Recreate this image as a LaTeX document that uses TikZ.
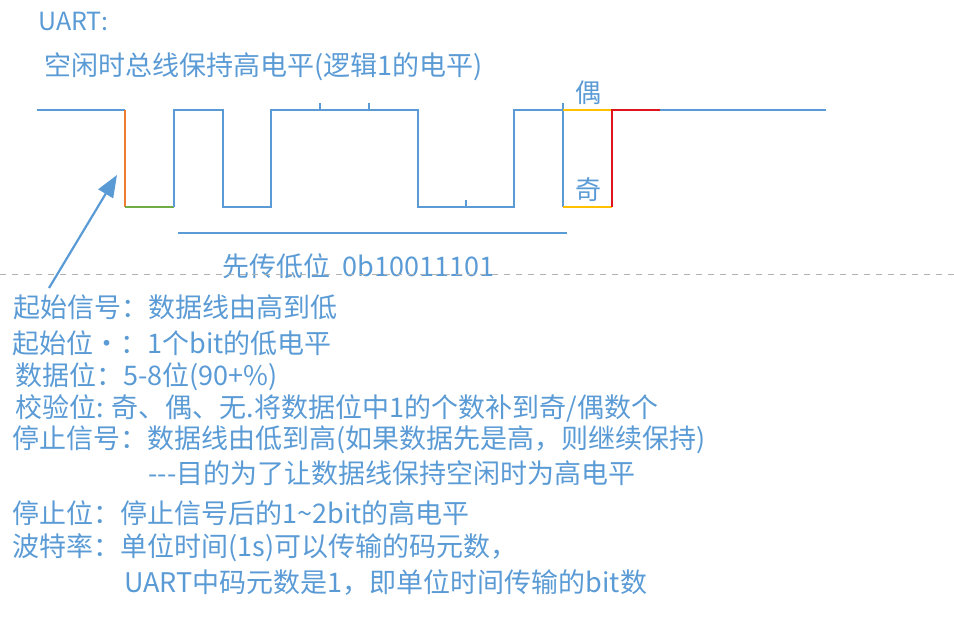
\documentclass[tikz,border=0pt]{standalone}
\usepackage{fontspec}
\newfontfamily\cjk{Noto Sans CJK SC}
\usepackage{tikz}
\usetikzlibrary{arrows.meta}
\definecolor{wblue}{HTML}{5B9BD5}
\definecolor{worange}{HTML}{ED7D31}
\definecolor{wgreen}{HTML}{70AD47}
\definecolor{wyellow}{HTML}{FFC000}
\definecolor{wred}{HTML}{E0141E}
\tikzset{
  wave/.style={line width=1.3pt, wblue},
  txt/.style={anchor=west, inner sep=0pt, text=wblue, font=\cjk\fontsize{13.5}{16}\selectfont},
  mark txt/.style={inner sep=0pt, text=wblue, font=\cjk\fontsize{13}{16}\selectfont}
}

\begin{document}
\begin{tikzpicture}[x=0.5pt, y=-0.5pt]
    \useasboundingbox (0,0) rectangle (954,635);

    % Titles
    \node[txt, font=\cjk\fontsize{12.5}{15}\selectfont] (uart) at (38, 22) {UART:};
    \node[txt] (idle) at (44, 67) {空闲时总线保持高电平(逻辑1的电平)};

    % Waveform
    \draw[wave] (37,110) -- (125,110);
    \draw[wave, worange] (125,110) -- (125,207);
    \draw[wave, wgreen] (125,207) -- (174,207);
    \draw[wave] (174,207) -- (174,110) -- (223,110) -- (223,207) -- (271,207)
        -- (271,110) -- (418,110) -- (418,207) -- (514,207) -- (514,110) -- (563,110);
    \draw[wave] (563,103) -- (563,207);
    \draw[wave, wyellow] (563,110) -- (612,110);
    \draw[wave, wyellow] (563,207) -- (612,207);
    \draw[wave, wred] (612,207) -- (612,110) -- (660,110);
    \draw[wave] (660,110) -- (826,110);

    % Bit ticks
    \foreach \x in {320, 369} {
        \draw[wave] (\x,110) -- (\x,103);
    }
    \draw[wave] (466,207) -- (466,200);

    % Parity labels
    \node[mark txt] (even) at (588, 93) {偶};
    \node[mark txt] (odd) at (588, 190) {奇};

    % Data bits
    \draw[wave] (178,233) -- (567,233);
    \node[txt] (lsb) at (222, 266) {先传低位\ \ 0b10011101};

    % Separator
    \draw[gray!60, dashed, line width=0.5pt] (0,275) -- (954,275);

    % Notes
    \node[txt] (start) at (13, 307) {起始信号：数据线由高到低};
    \node[txt] (startbit) at (12, 343) {起始位·：1个bit的低电平};
    \node[txt] (databit) at (15, 377) {数据位：5-8位(90+\%)};
    \node[txt] (parity) at (15, 408) {校验位: 奇、偶、无.将数据位中1的个数补到奇/偶数个};
    \node[txt] (stop) at (12, 440) {停止信号：数据线由低到高(如果数据先是高，则继续保持)};
    \node[txt] (stopwhy) at (148, 473) {---目的为了让数据线保持空闲时为高电平};
    \node[txt] (stopbit) at (12, 513) {停止位：停止信号后的1\textasciitilde2bit的高电平};
    \node[txt] (baud) at (12, 548) {波特率：单位时间(1s)可以传输的码元数，};
    \node[txt] (baud2) at (124, 583) {UART中码元数是1，即单位时间传输的bit数};

    % Start signal arrow
    \coordinate (fall) at (117, 175);
    \draw[wblue, line width=1.1pt, -{Triangle[length=11pt, width=8.5pt]}]
        ([xshift=18pt, yshift=3pt]start.north west) -- (fall);
\end{tikzpicture}
\end{document}
